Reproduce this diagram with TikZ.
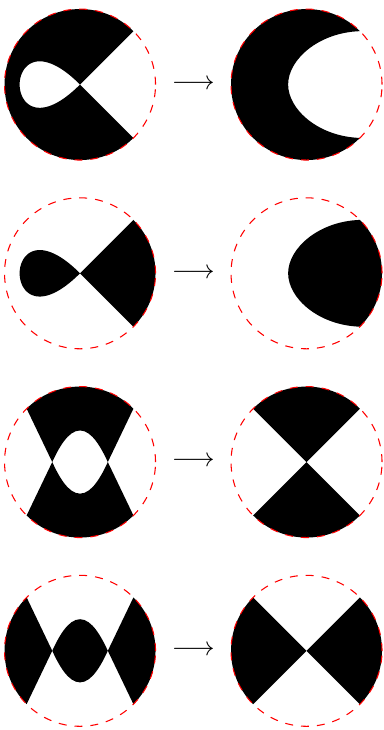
\documentclass[tikz,border=0pt]{standalone}
\tikzset{
  blk/.style={fill=black, draw=none},
  rim/.style={draw=red, dashed, line width=0.4pt},
  arr/.style={inner sep=0.3333em}
}
\begin{document}
\begin{tikzpicture}
\useasboundingbox (0,0) rectangle (5.0728,9.6689);
% ---------- row 1 ----------
\begin{scope}[shift={(1.06,8.549)}]
  \fill[blk, even odd rule] (0,0) -- (45:1) arc[start angle=45, end angle=315, radius=1] -- cycle
    plot[domain=-1:1, samples=90, smooth] ({0.8*(\x*\x-1)},{0.8*\x*(\x*\x-1)}) -- cycle;
  \draw[rim] (0,0) circle[radius=1];
\end{scope}
\node[arr] (a1) at (2.56,8.549) {$\longrightarrow$};
\begin{scope}[shift={(4.06,8.549)}]
  \fill[blk] (45:1) arc[start angle=45, end angle=315, radius=1]
    .. controls (0.159,-0.689) and (-0.2437,-0.331) .. (-0.2437,0)
    .. controls (-0.2437,0.331) and (0.159,0.689) .. (45:1) -- cycle;
  \draw[rim] (0,0) circle[radius=1];
\end{scope}
% ---------- row 2 ----------
\begin{scope}[shift={(1.06,6.049)}]
  \fill[blk] (0,0) -- (-45:1) arc[start angle=-45, end angle=45, radius=1] -- cycle;
  \fill[blk] plot[domain=-1:1, samples=90, smooth] ({0.8*(\x*\x-1)},{0.8*\x*(\x*\x-1)}) -- cycle;
  \draw[rim] (0,0) circle[radius=1];
\end{scope}
\node[arr] (a2) at (2.56,6.049) {$\longrightarrow$};
\begin{scope}[shift={(4.06,6.049)}]
  \fill[blk] (45:1) arc[start angle=45, end angle=-45, radius=1]
    .. controls (0.159,-0.689) and (-0.2437,-0.331) .. (-0.2437,0)
    .. controls (-0.2437,0.331) and (0.159,0.689) .. (45:1) -- cycle;
  \draw[rim] (0,0) circle[radius=1];
\end{scope}
% ---------- row 3 ----------
\begin{scope}[shift={(1.06,3.549)}]
  \fill[blk] (135:1) -- (-0.368,0)
    .. controls (-0.285,0.180) and (-0.159,0.4185) .. (0,0.4185)
    .. controls (0.159,0.4185) and (0.285,0.180) .. (0.368,0)
    -- (45:1) arc[start angle=45, end angle=135, radius=1] -- cycle;
  \fill[blk] (225:1) -- (-0.368,0)
    .. controls (-0.285,-0.180) and (-0.159,-0.4185) .. (0,-0.4185)
    .. controls (0.159,-0.4185) and (0.285,-0.180) .. (0.368,0)
    -- (-45:1) arc[start angle=-45, end angle=-135, radius=1] -- cycle;
  \draw[rim] (0,0) circle[radius=1];
\end{scope}
\node[arr] (a3) at (2.56,3.549) {$\longrightarrow$};
\begin{scope}[shift={(4.06,3.549)}]
  \fill[blk] (0,0) -- (45:1) arc[start angle=45, end angle=135, radius=1] -- cycle;
  \fill[blk] (0,0) -- (225:1) arc[start angle=225, end angle=315, radius=1] -- cycle;
  \draw[rim] (0,0) circle[radius=1];
\end{scope}
% ---------- row 4 ----------
\begin{scope}[shift={(1.06,1.049)}]
  \fill[blk] (135:1) arc[start angle=135, end angle=225, radius=1] -- (-0.368,0) -- cycle;
  \fill[blk] (-45:1) arc[start angle=-45, end angle=45, radius=1] -- (0.368,0) -- cycle;
  \fill[blk] (-0.368,0)
    .. controls (-0.285,0.180) and (-0.159,0.4185) .. (0,0.4185)
    .. controls (0.159,0.4185) and (0.285,0.180) .. (0.368,0)
    .. controls (0.285,-0.180) and (0.159,-0.4185) .. (0,-0.4185)
    .. controls (-0.159,-0.4185) and (-0.285,-0.180) .. (-0.368,0) -- cycle;
  \draw[rim] (0,0) circle[radius=1];
\end{scope}
\node[arr] (a4) at (2.56,1.049) {$\longrightarrow$};
\begin{scope}[shift={(4.06,1.049)}]
  \fill[blk] (0,0) -- (135:1) arc[start angle=135, end angle=225, radius=1] -- cycle;
  \fill[blk] (0,0) -- (-45:1) arc[start angle=-45, end angle=45, radius=1] -- cycle;
  \draw[rim] (0,0) circle[radius=1];
\end{scope}
\end{tikzpicture}
\end{document}
